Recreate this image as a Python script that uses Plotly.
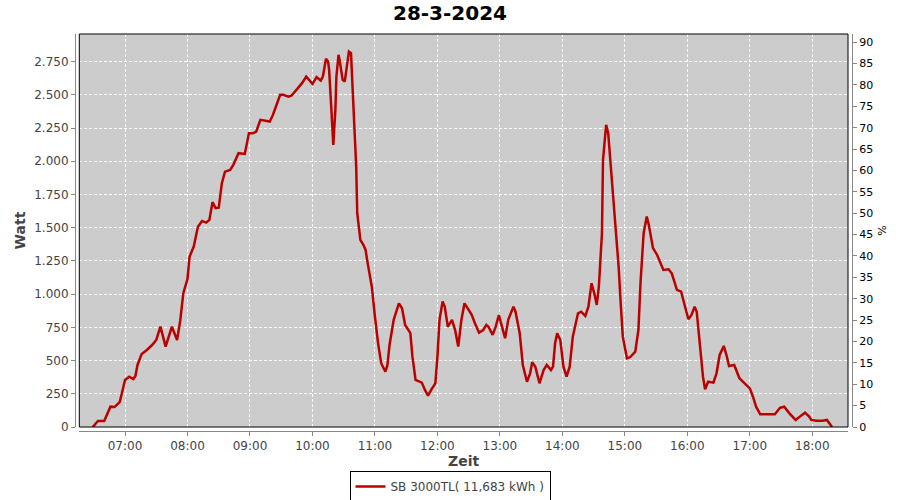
import plotly.graph_objects as go

DAY = "2024-03-28"
TITLE = "28-3-2024"
SERIES_NAME = "SB 3000TL( 11,683 kWh )"

times = ["06:29", "06:34", "06:40", "06:46", "06:50", "06:55", "07:00", "07:04", "07:08", "07:10",
         "07:12", "07:16", "07:21", "07:26", "07:30", "07:34", "07:39", "07:45", "07:50", "07:53",
         "07:56", "08:00", "08:02", "08:06", "08:10", "08:14", "08:18", "08:21", "08:24", "08:27",
         "08:30", "08:33", "08:36", "08:41", "08:44", "08:49", "08:55", "08:59", "09:03", "09:06",
         "09:10", "09:14", "09:19", "09:22", "09:29", "09:32", "09:37", "09:40", "09:45", "09:50",
         "09:54", "10:00", "10:04", "10:08", "10:10", "10:13", "10:15", "10:16", "10:18", "10:20",
         "10:22", "10:23", "10:25", "10:26", "10:29", "10:31", "10:33", "10:35", "10:37", "10:38",
         "10:40", "10:42", "10:43", "10:46", "10:49", "10:51", "10:53", "10:56", "10:57", "11:00",
         "11:03", "11:06", "11:10", "11:12", "11:14", "11:18", "11:21", "11:23", "11:26", "11:29",
         "11:34", "11:36", "11:39", "11:45", "11:48", "11:51", "11:54", "11:58", "12:00", "12:02",
         "12:05", "12:07", "12:10", "12:14", "12:17", "12:20", "12:23", "12:26", "12:30", "12:33",
         "12:36", "12:40", "12:44", "12:47", "12:49", "12:53", "12:56", "12:59", "13:02", "13:05",
         "13:08", "13:13", "13:15", "13:19", "13:22", "13:26", "13:29", "13:31", "13:34", "13:38",
         "13:42", "13:45", "13:49", "13:51", "13:53", "13:55", "13:58", "14:01", "14:04", "14:07",
         "14:10", "14:15", "14:18", "14:22", "14:25", "14:28", "14:31", "14:33", "14:35", "14:38",
         "14:39", "14:41", "14:42", "14:44", "14:46", "14:49", "14:51", "14:54", "14:56", "14:58",
         "15:02", "15:05", "15:10", "15:13", "15:15", "15:18", "15:21", "15:23", "15:27", "15:31",
         "15:37", "15:42", "15:45", "15:50", "15:54", "15:58", "16:01", "16:04", "16:07", "16:09",
         "16:12", "16:15", "16:17", "16:20", "16:25", "16:28", "16:31", "16:35", "16:38", "16:40",
         "16:45", "16:50", "16:55", "17:00", "17:03", "17:06", "17:10", "17:14", "17:18", "17:24",
         "17:29", "17:33", "17:38", "17:44", "17:48", "17:53", "17:57", "17:59", "18:04", "18:10",
         "18:14", "18:17", "18:19"]

watts = [0, 45, 45, 153, 150, 190, 354, 379, 361, 384,
         467, 550, 580, 617, 655, 755, 605, 755, 655, 800,
         1007, 1115, 1282, 1358, 1508, 1551, 1538, 1559, 1692, 1647,
         1651, 1835, 1922, 1935, 1973, 2061, 2055, 2211, 2211, 2224,
         2312, 2304, 2299, 2349, 2500, 2500, 2487, 2495, 2538, 2588,
         2638, 2583, 2633, 2608, 2638, 2771, 2751, 2688, 2412, 2123,
         2387, 2638, 2801, 2764, 2613, 2600, 2713, 2826, 2814, 2663,
         2362, 1960, 1609, 1408, 1370, 1333, 1233, 1120, 1056, 831,
         630, 480, 416, 467, 617, 806, 894, 931, 894, 768,
         706, 529, 354, 334, 279, 236, 279, 329, 529, 806,
         944, 906, 755, 806, 730, 605, 806, 931, 881, 843,
         781, 710, 730, 768, 755, 693, 755, 843, 755, 668,
         806, 906, 868, 706, 467, 341, 404, 487, 454, 329,
         429, 467, 429, 454, 630, 706, 655, 454, 379, 454,
         680, 856, 868, 836, 906, 1082, 994, 919, 1056, 1458,
         2010, 2211, 2274, 2211, 2010, 1772, 1508, 1207, 931, 680,
         517, 525, 567, 730, 1082, 1458, 1584, 1521, 1346, 1295,
         1182, 1187, 1157, 1032, 1019, 906, 811, 843, 906, 868,
         630, 379, 284, 341, 334, 404, 542, 610, 529, 459,
         467, 367, 329, 291, 228, 153, 96, 96, 98, 96,
         145, 153, 103, 53, 78, 108, 78, 53, 47, 47,
         53, 23, 0]

x_range = [f"{DAY} 06:16:06", f"{DAY} 18:34:16"]
watt_range = [0, 2958]
pct_range = [0, 91.9]

x = [f"{DAY} {t}" for t in times]

FONT = "DejaVu Sans"
LINE_RED = "#BB0000"
AXIS_GRAY = "#888888"
TEXT_GRAY = "#444444"

fig = go.Figure()
fig.add_trace(go.Scatter(x=x, y=watts, mode="lines", name=SERIES_NAME,
                         line=dict(color=LINE_RED, width=2.5)))
# placeholder trace to register the right-hand percentage axis
fig.add_trace(go.Scatter(x=[x[0]], y=[0], yaxis="y2", mode="lines",
                         showlegend=False, hoverinfo="skip",
                         line=dict(width=0)))

xd = [(79.3 - 40) / 840, (848 - 40) / 840]
yd = [(450 - 427) / 416, 1.0]

fig.update_layout(
    width=900, height=500,
    margin=dict(l=40, r=20, t=34, b=50, autoexpand=False),
    paper_bgcolor="white",
    plot_bgcolor="#CCCCCC",
    separators=",.",
    font=dict(family=FONT, size=12, color=TEXT_GRAY),
    title=dict(text=f"<b>{TITLE}</b>", x=0.5, xref="container", xanchor="center",
               y=1 - 13 / 500, yref="container", yanchor="middle",
               font=dict(family=FONT, size=20, color="#000000")),
    xaxis=dict(
        type="date", range=x_range, domain=xd,
        anchor="free", position=(450 - 431) / 416,
        tickformat="%H:%M", dtick=3600000, tick0=f"{DAY} 07:00",
        ticks="outside", ticklen=4, tickcolor=AXIS_GRAY,
        showline=True, linecolor=AXIS_GRAY, linewidth=1,
        showgrid=True, gridcolor="white", gridwidth=1, griddash="3px,2px",
        tickfont=dict(family=FONT, size=12, color=TEXT_GRAY),
        title=dict(text="<b>Zeit</b>", standoff=3,
                   font=dict(family=FONT, size=14, color=TEXT_GRAY)),
        automargin=False, zeroline=False,
    ),
    yaxis=dict(
        range=watt_range, domain=yd,
        anchor="free", position=(75 - 40) / 840,
        dtick=250, tick0=0, tickformat=",d",
        ticks="outside", ticklen=4, tickcolor=AXIS_GRAY,
        showline=True, linecolor=AXIS_GRAY, linewidth=1,
        showgrid=True, gridcolor="white", gridwidth=1, griddash="3px,2px",
        tickfont=dict(family=FONT, size=12, color=TEXT_GRAY),
        title=dict(text="<b>Watt</b>", standoff=4,
                   font=dict(family=FONT, size=14, color=TEXT_GRAY)),
        automargin=False, zeroline=False,
    ),
    yaxis2=dict(
        range=pct_range, overlaying="y", side="right",
        anchor="free", position=(852 - 40) / 840,
        dtick=5, tick0=0,
        ticks="outside", ticklen=4, tickcolor=AXIS_GRAY,
        showline=True, linecolor=AXIS_GRAY, linewidth=1,
        showgrid=False, zeroline=False,
        tickfont=dict(family=FONT, size=11, color="#000000"),
        title=dict(text="%", standoff=6,
                   font=dict(family=FONT, size=11, color="#000000")),
        automargin=False,
    ),
    legend=dict(
        x=(450 - 40) / 840, xanchor="center",
        y=(450 - 486.5) / 416, yanchor="middle",
        orientation="h",
        bordercolor="#000000", borderwidth=1, bgcolor="white",
        font=dict(family=FONT, size=12, color=TEXT_GRAY),
        itemwidth=30,
    ),
    shapes=[dict(type="rect", xref="paper", yref="paper",
                 x0=xd[0], x1=xd[1], y0=yd[0], y1=yd[1],
                 line=dict(color="#000000", width=1), layer="above")],
    showlegend=True,
)

fig.write_html("out.html",
               config={"displayModeBar": False},
               post_script="document.body.style.margin='0px';document.body.style.overflow='hidden';")
